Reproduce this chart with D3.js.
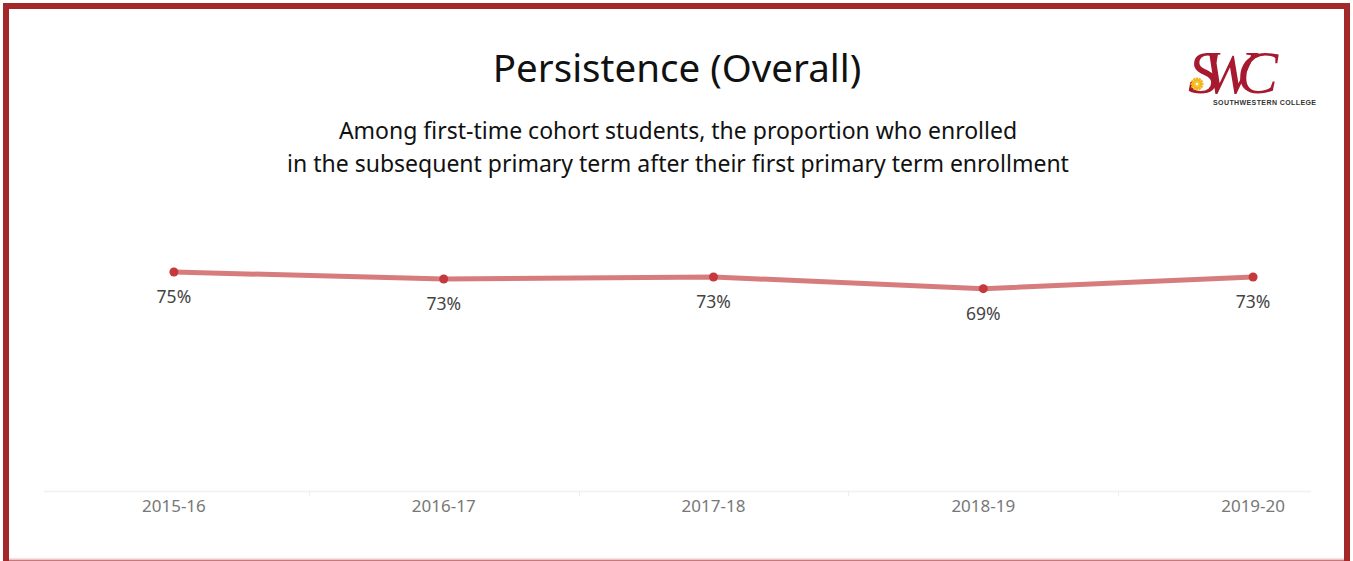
<!DOCTYPE html>
<meta charset="utf-8">
<body style="margin:0;background:#fff">
<style>
svg { display: block; }
.title { font: 38.5px "Noto Sans", sans-serif; text-anchor: middle; fill: #111; }
.sub { font: 23px "Noto Sans", sans-serif; text-anchor: middle; fill: #111; }
.lbl { font: 17.5px "Noto Sans", sans-serif; text-anchor: middle; fill: #444; }
.tick text { font: 17px "Noto Sans", sans-serif; fill: #777; }
</style>
<script src="https://d3js.org/d3.v7.min.js"></script>
<script>

var years = ["2015-16", "2016-17", "2017-18", "2018-19", "2019-20"];
var persistence = [0.750, 0.726, 0.733, 0.693, 0.733];
var subtitle = ["Among first-time cohort students, the proportion who enrolled",
                "in the subsequent primary term after their first primary term enrollment"];

var width = 1353, height = 561;

var svg = d3.select("body").append("svg")
    .attr("width", width)
    .attr("height", height);

// frame
svg.append("rect").attr("x", 6).attr("y", 6).attr("width", width - 12).attr("height", height - 4)
    .attr("fill", "none").attr("stroke", "#a2282a").attr("stroke-width", 6);
svg.append("line").attr("x1", 9).attr("x2", width - 9).attr("y1", 559.5).attr("y2", 559.5)
    .attr("stroke", "#efc6c6").attr("stroke-width", 2);

svg.append("text").attr("class", "title").attr("x", 677).attr("y", 82).text("Persistence (Overall)");

svg.selectAll(".sub").data(subtitle).enter().append("text")
    .attr("class", "sub")
    .attr("x", 678)
    .attr("y", function(d, i) { return 139 + i * 33; })
    .text(function(d) { return d; });

// logo
var logo = svg.append("g").attr("transform", "translate(1186,34)");
logo.append("text").attr("x", 2).attr("y", 59)
    .style("font", "italic 62px 'Liberation Serif', serif")
    .attr("fill", "#a6192e")
    .attr("textLength", 90)
    .text("SWC");
var sun = logo.append("g").attr("transform", "translate(11,50)");
sun.selectAll("line").data(d3.range(12)).enter().append("line")
    .attr("x1", 0).attr("y1", 0)
    .attr("x2", function(d) { return 6.5 * Math.cos(d * Math.PI / 6); })
    .attr("y2", function(d) { return 6.5 * Math.sin(d * Math.PI / 6); })
    .attr("stroke", "#f2b51c").attr("stroke-width", 2.4);
sun.append("circle").attr("r", 3).attr("fill", "#f7c631");
sun.append("circle").attr("r", 1.2).attr("fill", "#fff");
logo.append("text").attr("x", 27).attr("y", 71)
    .style("font", "bold 7px 'Liberation Sans', sans-serif")
    .attr("fill", "#333")
    .attr("textLength", 103)
    .text("SOUTHWESTERN COLLEGE");

// scales
var x = d3.scaleBand().domain(years).range([39, 1388]);
var y = d3.scaleLinear().domain([0, 1]).range([491, 199]);
var cx = function(d) { return x(d) + x.bandwidth() / 2; };

// axis
svg.append("line").attr("x1", 44).attr("x2", 1311).attr("y1", 491.5).attr("y2", 491.5)
    .attr("stroke", "#f0f0f0").attr("stroke-width", 1.5);
svg.selectAll(".sep").data(years.slice(1)).enter().append("line")
    .attr("x1", function(d) { return Math.round(x(d)) + 0.5; })
    .attr("x2", function(d) { return Math.round(x(d)) + 0.5; })
    .attr("y1", 491).attr("y2", 496)
    .attr("stroke", "#eeeeee");

var xAxis = svg.append("g").attr("transform", "translate(0,491)")
    .call(d3.axisBottom(x).tickSize(0).tickPadding(9));
xAxis.select(".domain").remove();

var data = years.map(function(d, i) { return { year: d, v: persistence[i] }; });

var line = d3.line()
    .x(function(d) { return cx(d.year); })
    .y(function(d) { return y(d.v); });

svg.append("path").datum(data)
    .attr("d", line)
    .attr("fill", "none")
    .attr("stroke", "#d47575")
    .attr("stroke-width", 5)
    .attr("stroke-opacity", 0.95);

svg.selectAll(".pt").data(data).enter().append("circle")
    .attr("cx", function(d) { return cx(d.year); })
    .attr("cy", function(d) { return y(d.v); })
    .attr("r", 4.5)
    .attr("fill", "#c5383b");

svg.selectAll(".lbl").data(data).enter().append("text")
    .attr("class", "lbl")
    .attr("x", function(d) { return cx(d.year); })
    .attr("y", function(d) { return y(d.v) + 31; })
    .text(function(d) { return d3.format(".0%")(d.v); });

</script>
</body>
